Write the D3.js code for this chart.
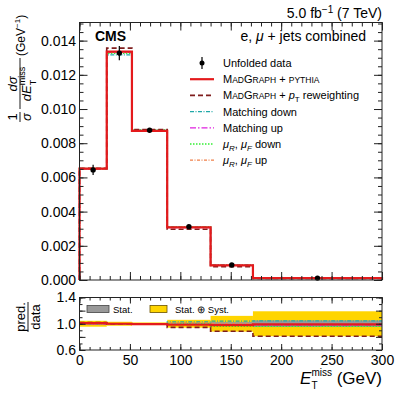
<!DOCTYPE html>
<html>
<head>
<meta charset="utf-8">
<script src="https://cdn.jsdelivr.net/npm/d3@7"></script>
<style>
body { margin: 0; background: #fff; }
svg text { font-family: "Liberation Sans", Arial, sans-serif; fill: #000; white-space: pre; }
</style>
</head>
<body>
<svg id="chart" width="399" height="399"></svg>
<script>
// Bins (GeV)
var binEdges = [0, 27, 52, 87, 130, 172, 300];

// Normalised cross section
var dataValues = [0.00644, 0.01327, 0.00876, 0.00312, 0.00088, 0.00011];
var dataErrors = [0.00030, 0.00042, 0.00010, 0.00010, 0.00004, 0.00001];
var madgraph   = [0.00651, 0.01336, 0.00872, 0.00308, 0.00085, 0.00011];
var ptReweight = [0.00653, 0.01356, 0.00880, 0.00297, 0.00078, 0.00009];
var matchDown  = [0.00648, 0.01317, 0.00875, 0.00312, 0.00090, 0.00012];
var matchUp    = [0.00650, 0.01330, 0.00870, 0.00306, 0.00086, 0.00011];
var scaleDown  = [0.00652, 0.01325, 0.00878, 0.00310, 0.00085, 0.00011];
var scaleUp    = [0.00649, 0.01333, 0.00874, 0.00309, 0.00087, 0.00011];

// pred./data
var ratioMadgraph   = [1.01, 1.00, 0.995, 0.985, 0.98, 0.99];
var ratioPtReweight = [1.02, 1.00, 1.00, 0.945, 0.885, 0.81];
var ratioMatchDown  = [1.00, 0.99, 1.00, 1.03, 1.04, 1.045];
var ratioMatchUp    = [1.00, 1.00, 0.99, 0.99, 0.975, 0.98];
var ratioScaleDown  = [1.01, 0.995, 1.00, 1.00, 0.96, 0.96];
var ratioScaleUp    = [1.00, 1.00, 1.00, 1.01, 1.00, 0.99];
var statBand  = [0.015, 0.01, 0.01, 0.015, 0.025, 0.05];
var totalBand = [0.045, 0.03, 0.02, 0.06, 0.12, 0.19];

// Tick labels
var xTicks = [0, 50, 100, 150, 200, 250, 300];
var yTicks = [0, 0.002, 0.004, 0.006, 0.008, 0.010, 0.012, 0.014];
var ratioTicks = [0.6, 1.0, 1.4];

var svg = d3.select("#chart");

var x = d3.scaleLinear().domain([0, 300]).range([79.5, 382]);
var y = d3.scaleLinear().domain([0, 0.01506]).range([280, 22.5]);
var yr = d3.scaleLinear().domain([0.6, 1.4]).range([350, 297.5]);

var styles = [
  { color: "#e41a1c", width: 2.2, dash: null },
  { color: "#7f1d1d", width: 1.6, dash: "5,3" },
  { color: "#1fa8a8", width: 1.3, dash: "4,1.5,1,1.5" },
  { color: "#e020e0", width: 1.3, dash: "6,2,1.5,2" },
  { color: "#33ee33", width: 1.3, dash: "1.5,1.5" },
  { color: "#f0804a", width: 1.3, dash: "3,1.5,1,1.5" }
];
var topSeries = [madgraph, ptReweight, matchDown, matchUp, scaleDown, scaleUp];
var ratioSeries = [ratioMadgraph, ratioPtReweight, ratioMatchDown, ratioMatchUp, ratioScaleDown, ratioScaleUp];
// draw the variations first, MadGraph lines last so they stay on top
var drawOrder = [2, 3, 4, 5, 1, 0];

// text with sub/superscripts made of pieces
function rich(parent, px, py, parts, anchor) {
  var g = parent.append("g");
  var cx = 0, lastStart = 0, lastEnd = 0;
  parts.forEach(function(p) {
    var t = g.append("text").text(p.t)
      .attr("font-size", p.fs || 14)
      .attr("font-style", p.it ? "italic" : null)
      .attr("font-weight", p.bold ? "bold" : null);
    var start = p.stack ? lastStart : cx;
    t.attr("x", start).attr("y", p.dy || 0);
    var w = t.node().getComputedTextLength();
    if (p.stack) { cx = Math.max(lastEnd, start + w); }
    else { lastStart = start; lastEnd = start + w; cx = start + w; }
  });
  var shift = anchor == "end" ? -cx : (anchor == "middle" ? -cx / 2 : 0);
  g.attr("transform", "translate(" + (px + shift) + "," + py + ")");
  return g;
}

function stepPoints(vals, closed) {
  var pts = [];
  if (closed) pts.push([binEdges[0], 0]);
  vals.forEach(function(v, i) {
    pts.push([binEdges[i], v]);
    pts.push([binEdges[i + 1], v]);
  });
  if (closed) pts.push([binEdges[binEdges.length - 1], 0]);
  return pts;
}

// ---------- top panel ----------
var lineTop = d3.line().x(function(d) { return x(d[0]); }).y(function(d) { return y(d[1]); });

drawOrder.forEach(function(i) {
  svg.append("path")
     .attr("d", lineTop(stepPoints(topSeries[i], true)))
     .attr("fill", "none")
     .attr("stroke", styles[i].color)
     .attr("stroke-width", styles[i].width)
     .attr("stroke-dasharray", styles[i].dash);
});

var centers = binEdges.slice(0, -1).map(function(e, i) { return (e + binEdges[i + 1]) / 2; });

svg.selectAll(".errbar")
   .data(dataValues)
   .enter()
   .append("line")
   .attr("class", "errbar")
   .attr("x1", function(d, i) { return x(centers[i]); })
   .attr("x2", function(d, i) { return x(centers[i]); })
   .attr("y1", function(d, i) { return y(d + dataErrors[i]); })
   .attr("y2", function(d, i) { return y(d - dataErrors[i]); })
   .attr("stroke", "#000")
   .attr("stroke-width", 1.2);

svg.selectAll(".datapt")
   .data(dataValues)
   .enter()
   .append("circle")
   .attr("class", "datapt")
   .attr("cx", function(d, i) { return x(centers[i]); })
   .attr("cy", function(d) { return y(d); })
   .attr("r", 2.7)
   .attr("fill", "#000");

// ---------- ratio panel ----------
svg.append("defs").append("clipPath").attr("id", "ratio-clip")
   .append("rect").attr("x", x(0)).attr("y", yr(1.4)).attr("width", x(300) - x(0)).attr("height", yr(0.6) - yr(1.4));
var ratioG = svg.append("g").attr("clip-path", "url(#ratio-clip)");

ratioG.selectAll(".totband")
   .data(totalBand)
   .enter()
   .append("rect")
   .attr("x", function(d, i) { return x(binEdges[i]); })
   .attr("width", function(d, i) { return x(binEdges[i + 1]) - x(binEdges[i]); })
   .attr("y", function(d) { return yr(1 + d); })
   .attr("height", function(d) { return yr(1 - d) - yr(1 + d); })
   .attr("fill", "#ffd500");

ratioG.selectAll(".statband")
   .data(statBand)
   .enter()
   .append("rect")
   .attr("x", function(d, i) { return x(binEdges[i]); })
   .attr("width", function(d, i) { return x(binEdges[i + 1]) - x(binEdges[i]); })
   .attr("y", function(d) { return yr(1 + d); })
   .attr("height", function(d) { return yr(1 - d) - yr(1 + d); })
   .attr("fill", "#999");

var lineRatio = d3.line().x(function(d) { return x(d[0]); }).y(function(d) { return yr(d[1]); });
drawOrder.forEach(function(i) {
  ratioG.append("path")
     .attr("d", lineRatio(stepPoints(ratioSeries[i], false)))
     .attr("fill", "none")
     .attr("stroke", styles[i].color)
     .attr("stroke-width", styles[i].width)
     .attr("stroke-dasharray", styles[i].dash);
});

// ---------- frames and axes ----------
function styleAxis(g) {
  g.select(".domain").remove();
  g.selectAll(".tick line").attr("stroke", "#222");
  g.selectAll("text").attr("font-size", 14).attr("font-family", '"Liberation Sans", Arial, sans-serif');
}

var yMinor = d3.range(0, 0.01501, 0.0005);
var xMinor = d3.range(0, 301, 10);
var rMinor = d3.range(0.6, 1.401, 0.1);
var rMajor = [0.6, 0.8, 1.0, 1.2, 1.4];

svg.append("g").attr("transform", "translate(" + x(0) + ",0)")
   .call(d3.axisLeft(y).tickValues(yTicks).tickSize(-8).tickPadding(3.5).tickFormat(d3.format(".3f"))).call(styleAxis);
svg.append("g").attr("transform", "translate(" + x(0) + ",0)")
   .call(d3.axisLeft(y).tickValues(yMinor).tickSize(-4).tickFormat("")).call(styleAxis);
svg.append("g").attr("transform", "translate(" + x(300) + ",0)")
   .call(d3.axisRight(y).tickValues(yTicks).tickSize(-8).tickFormat("")).call(styleAxis);
svg.append("g").attr("transform", "translate(" + x(300) + ",0)")
   .call(d3.axisRight(y).tickValues(yMinor).tickSize(-4).tickFormat("")).call(styleAxis);
svg.append("g").attr("transform", "translate(0," + y(0) + ")")
   .call(d3.axisBottom(x).tickValues(xTicks).tickSize(-8).tickFormat("")).call(styleAxis);
svg.append("g").attr("transform", "translate(0," + y(0) + ")")
   .call(d3.axisBottom(x).tickValues(xMinor).tickSize(-4).tickFormat("")).call(styleAxis);
svg.append("g").attr("transform", "translate(0," + y.range()[1] + ")")
   .call(d3.axisTop(x).tickValues(xTicks).tickSize(-8).tickFormat("")).call(styleAxis);
svg.append("g").attr("transform", "translate(0," + y.range()[1] + ")")
   .call(d3.axisTop(x).tickValues(xMinor).tickSize(-4).tickFormat("")).call(styleAxis);

svg.append("rect").attr("x", x(0)).attr("y", y.range()[1])
   .attr("width", x(300) - x(0)).attr("height", y(0) - y.range()[1])
   .attr("fill", "none").attr("stroke", "#222").attr("stroke-width", 1);

// ratio axes
svg.append("g").attr("transform", "translate(" + x(0) + ",0)")
   .call(d3.axisLeft(yr).tickValues(rMajor).tickSize(-6).tickPadding(3.5)
   .tickFormat(function(d) { return ratioTicks.some(function(t) { return Math.abs(t - d) < 1e-6; }) ? d3.format(".1f")(d) : ""; }))
   .call(styleAxis);
svg.append("g").attr("transform", "translate(" + x(0) + ",0)")
   .call(d3.axisLeft(yr).tickValues(rMinor).tickSize(-3).tickFormat("")).call(styleAxis);
svg.append("g").attr("transform", "translate(" + x(300) + ",0)")
   .call(d3.axisRight(yr).tickValues(rMajor).tickSize(-6).tickFormat("")).call(styleAxis);
svg.append("g").attr("transform", "translate(" + x(300) + ",0)")
   .call(d3.axisRight(yr).tickValues(rMinor).tickSize(-3).tickFormat("")).call(styleAxis);
svg.append("g").attr("transform", "translate(0," + yr(0.6) + ")")
   .call(d3.axisBottom(x).tickValues(xTicks).tickSize(-6).tickPadding(5).tickFormat(d3.format("d"))).call(styleAxis);
svg.append("g").attr("transform", "translate(0," + yr(0.6) + ")")
   .call(d3.axisBottom(x).tickValues(xMinor).tickSize(-3).tickFormat("")).call(styleAxis);
svg.append("g").attr("transform", "translate(0," + yr(1.4) + ")")
   .call(d3.axisTop(x).tickValues(xTicks).tickSize(-6).tickFormat("")).call(styleAxis);
svg.append("g").attr("transform", "translate(0," + yr(1.4) + ")")
   .call(d3.axisTop(x).tickValues(xMinor).tickSize(-3).tickFormat("")).call(styleAxis);

svg.append("rect").attr("x", x(0)).attr("y", yr(1.4))
   .attr("width", x(300) - x(0)).attr("height", yr(0.6) - yr(1.4))
   .attr("fill", "none").attr("stroke", "#222").attr("stroke-width", 1);

// ratio legend
svg.append("rect").attr("x", 87).attr("y", 305.5).attr("width", 22).attr("height", 7)
   .attr("fill", "#999").attr("stroke", "#444").attr("stroke-width", 0.8);
svg.append("text").attr("x", 113).attr("y", 312.5).attr("font-size", 9.5).text("Stat.");
svg.append("rect").attr("x", 150).attr("y", 305.5).attr("width", 17).attr("height", 7)
   .attr("fill", "#ffd500").attr("stroke", "#6a5200").attr("stroke-width", 0.8);
svg.append("text").attr("x", 175).attr("y", 312.5).attr("font-size", 9.5).text("Stat. \u2295 Syst.");

// ---------- texts ----------
rich(svg, 95, 41, [{ t: "CMS", bold: true, fs: 14 }], "start");
rich(svg, 382, 18, [{ t: "5.0 fb" }, { t: "\u22121", fs: 10, dy: -5.5 }, { t: " (7 TeV)" }], "end");
rich(svg, 366, 41, [{ t: "e, " }, { t: "\u03bc", it: true }, { t: " + jets combined" }], "end");

// legend
var legendItems = [
  [{ t: "Unfolded data" }],
  [{ t: "M" }, { t: "AD", fs: 8.5 }, { t: "G" }, { t: "RAPH", fs: 8.5 }, { t: " + " }, { t: "PYTHIA", fs: 8.5 }],
  [{ t: "M" }, { t: "AD", fs: 8.5 }, { t: "G" }, { t: "RAPH", fs: 8.5 }, { t: " + " }, { t: "p", it: true }, { t: "T", fs: 8, dy: 3 }, { t: " reweighting" }],
  [{ t: "Matching down" }],
  [{ t: "Matching up" }],
  [{ t: "\u03bc", it: true }, { t: "R", fs: 8, it: true, dy: 3 }, { t: ", " }, { t: "\u03bc", it: true }, { t: "F", fs: 8, it: true, dy: 3 }, { t: " down" }],
  [{ t: "\u03bc", it: true }, { t: "R", fs: 8, it: true, dy: 3 }, { t: ", " }, { t: "\u03bc", it: true }, { t: "F", fs: 8, it: true, dy: 3 }, { t: " up" }]
];
var legendRow = function(i) { return 63 + i * 16.2; };

legendItems.forEach(function(parts, i) {
  var ry = legendRow(i);
  parts.forEach(function(p) { if (!p.fs) p.fs = 11; });
  rich(svg, 223, ry + 4, parts, "start");
  if (i == 0) {
    svg.append("line").attr("x1", 202).attr("x2", 202).attr("y1", ry - 6).attr("y2", ry + 6)
       .attr("stroke", "#000").attr("stroke-width", 1.2);
    svg.append("circle").attr("cx", 202).attr("cy", ry).attr("r", 2.5).attr("fill", "#000");
  } else {
    var st = styles[i - 1];
    svg.append("line").attr("x1", 190).attr("x2", 214).attr("y1", ry).attr("y2", ry)
       .attr("stroke", st.color).attr("stroke-width", st.width).attr("stroke-dasharray", st.dash);
  }
});

// y axis title (rotated)
var yt = svg.append("g").attr("transform", "translate(20,122) rotate(-90)");
rich(yt, 5, -3, [{ t: "1", fs: 13 }], "middle");
rich(yt, 5, 11, [{ t: "\u03c3", fs: 13, it: true }], "middle");
yt.append("line").attr("x1", 0).attr("x2", 10).attr("y1", 0).attr("y2", 0).attr("stroke", "#000").attr("stroke-width", 0.9);
yt.append("line").attr("x1", 13).attr("x2", 64).attr("y1", 0).attr("y2", 0).attr("stroke", "#000").attr("stroke-width", 0.9);
rich(yt, 38, -3, [{ t: "d", fs: 13, it: true }, { t: "\u03c3", fs: 13, it: true }], "middle");
rich(yt, 38, 11, [{ t: "d", fs: 13, it: true }, { t: "E", fs: 13, it: true }, { t: "miss", fs: 9, dy: -6 }, { t: "T", fs: 9, dy: 4.5, stack: true }], "middle");
rich(yt, 66, 4.5, [{ t: "(GeV", fs: 12 }, { t: "\u22121", fs: 8, dy: -5 }, { t: ")", fs: 12 }], "start");

// ratio axis title
var rt = svg.append("g").attr("transform", "translate(28,317) rotate(-90)");
rich(rt, 0, -3.5, [{ t: "pred.", fs: 13 }], "middle");
rich(rt, 0, 11.5, [{ t: "data", fs: 13 }], "middle");
rt.append("line").attr("x1", -15).attr("x2", 15).attr("y1", 0).attr("y2", 0).attr("stroke", "#000").attr("stroke-width", 0.9);

// x axis title
rich(svg, 382, 384, [{ t: "E", fs: 17, it: true }, { t: "miss", fs: 10, dy: -8 }, { t: "T", fs: 10, dy: 4.5, stack: true }, { t: " (GeV)", fs: 17 }], "end");
</script>
</body>
</html>
